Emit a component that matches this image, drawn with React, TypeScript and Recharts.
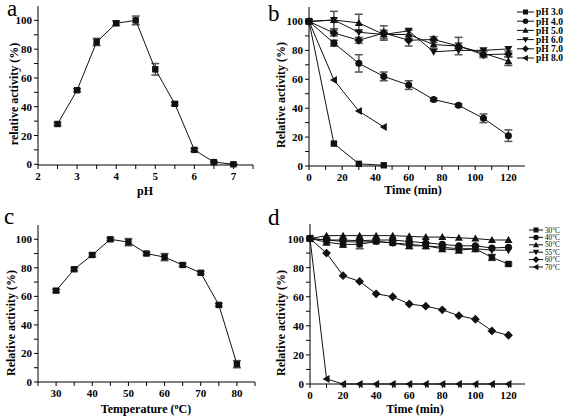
import React from "react";
import { ErrorBar, Legend, Line, LineChart, XAxis, YAxis } from "recharts";

// panel a: pH profile
const phValues = [2.5, 3, 3.5, 4, 4.5, 5, 5.5, 6, 6.5, 7];
const phActivity = [28, 51.5, 85, 98, 100, 66, 42, 10, 1.5, 0];
const phError = [1, 1, 2.5, 1.5, 3, 4, 1, 1, 0.5, 0.5];

// panel b: pH stability
const stabTime = [0, 15, 30, 45, 60, 75, 90, 105, 120];
const stabPh3 = [100, 15.5, 1.5, 0.5];
const stabPh4 = [100, 85, 71, 62, 56, 46, 42, 33, 21];
const stabPh5 = [100, 101, 99, 91, 91, 84, 83, 78, 72.5];
const stabPh6 = [100, 101, 92.5, 91, 93.5, 79, 80, 80, 81];
const stabPh7 = [100, 92, 87, 92, 87, 87.5, 83, 77, 77.5];
const stabPh8 = [100, 59.5, 38, 27];
const stabPh4Err = [1, 2, 6, 3, 3, 1, 1, 3, 4];
const stabPh5Err = [1, 6, 6, 3, 3, 3, 6, 2, 3];
const stabPh7Err = [1, 2, 2, 5, 4, 2, 2, 2, 2];

// panel c: temperature profile
const tempValues = [30, 35, 40, 45, 50, 55, 60, 65, 70, 75, 80];
const tempActivity = [64, 79, 89, 100, 98, 90, 87.5, 82, 76.5, 54, 12.5];
const tempError = [1, 1, 1, 1, 2.5, 1, 2.5, 1, 1, 1, 2.5];

// panel d: thermostability
const thermTime = [0, 10, 20, 30, 40, 50, 60, 70, 80, 90, 100, 110, 120];
const therm30 = [100, 97.5, 96, 96, 98, 97, 95, 95, 93, 92, 93, 87, 82.5];
const therm40 = [100, 99, 99, 98.5, 99, 99, 98, 97, 96, 95, 95, 93.5, 94];
const therm50 = [100, 102, 102, 102, 102, 102, 101.5, 101, 101, 100.5, 100, 99, 99];
const therm55 = [100, 99, 98, 97.5, 98, 97, 96, 95, 94, 93, 93, 92, 92];
const therm60 = [100, 90, 74.5, 70.5, 62, 60, 55, 53.5, 51, 47, 44.5, 36.5, 33.5];
const therm70 = [100, 3.5, 0, 0, 0, 0, 0, 0, 0, 0, 0, 0, 0];
const therm30Err = [1, 2, 2, 3, 1, 1, 2, 2, 2, 2, 2, 2, 1];

const phLabels = ["pH 3.0", "pH 4.0", "pH 5.0", "pH 6.0", "pH 7.0", "pH 8.0"];
const tempLabels = ["30°C", "40°C", "50°C", "55°C", "60°C", "70°C"];

type Shape = "square" | "circle" | "up" | "down" | "diamond" | "left";
const shapes: Shape[] = ["square", "circle", "up", "down", "diamond", "left"];

const serif = '"Liberation Serif", "Times New Roman", serif';
const ink = "#111";

const dataA = phValues.map((x, i) => ({ x, y: phActivity[i], e: phError[i] }));
const dataC = tempValues.map((x, i) => ({ x, y: tempActivity[i], e: tempError[i] }));
const dataB = stabTime.map((x, i) => ({
  x,
  s0: stabPh3[i] ?? null,
  s1: stabPh4[i],
  s2: stabPh5[i],
  s3: stabPh6[i],
  s4: stabPh7[i],
  s5: stabPh8[i] ?? null,
  e1: stabPh4Err[i],
  e2: stabPh5Err[i],
  e4: stabPh7Err[i],
}));
const dataD = thermTime.map((x, i) => ({
  x,
  s0: therm30[i],
  s1: therm40[i],
  s2: therm50[i],
  s3: therm55[i],
  s4: therm60[i],
  s5: therm70[i],
  e0: therm30Err[i],
}));

function Marker({ cx, cy, shape, s = 3.2 }: { cx: number; cy: number; shape: Shape; s?: number }) {
  if (shape === "square") return <rect x={cx - s} y={cy - s} width={s * 2} height={s * 2} fill={ink} />;
  if (shape === "circle") return <circle cx={cx} cy={cy} r={s * 1.1} fill={ink} />;
  const k = s * 1.25;
  let pts = "";
  if (shape === "up") pts = `${cx},${cy - k} ${cx + k},${cy + k * 0.75} ${cx - k},${cy + k * 0.75}`;
  if (shape === "down") pts = `${cx},${cy + k} ${cx + k},${cy - k * 0.75} ${cx - k},${cy - k * 0.75}`;
  if (shape === "left") pts = `${cx - k},${cy} ${cx + k * 0.75},${cy - k} ${cx + k * 0.75},${cy + k}`;
  if (shape === "diamond") pts = `${cx},${cy - k * 1.1} ${cx + k * 1.1},${cy} ${cx},${cy + k * 1.1} ${cx - k * 1.1},${cy}`;
  return <polygon points={pts} fill={ink} />;
}

const dotOf = (shape: Shape) => (p: any) => {
  if (p.cy == null || p.value == null) return <g key={p.key} />;
  return (
    <g key={p.key}>
      <Marker cx={p.cx} cy={p.cy} shape={shape} />
    </g>
  );
};

const xTick = (labels: number[]) => (p: any) => {
  if (!labels.includes(p.payload.value)) return <g />;
  return (
    <text x={p.x} y={p.y} dy={9} textAnchor="middle" fontFamily={serif} fontWeight="bold" fontSize={11} fill="#000">
      {p.payload.value}
    </text>
  );
};

const yTick = (labels: number[]) => (p: any) => {
  if (!labels.includes(p.payload.value)) return <g />;
  return (
    <text x={p.x} y={p.y} dy={4} textAnchor="end" fontFamily={serif} fontWeight="bold" fontSize={11} fill="#000">
      {p.payload.value}
    </text>
  );
};

const axisProps = {
  axisLine: { stroke: "#000" },
  tickLine: { stroke: "#000" },
  tickSize: 4,
  tickMargin: 2,
  interval: 0 as const,
};

const yMinor = [0, 10, 20, 30, 40, 50, 60, 70, 80, 90, 100];
const yMajor = [0, 20, 40, 60, 80, 100];
const timeMinor = [0, 10, 20, 30, 40, 50, 60, 70, 80, 90, 100, 110, 120];
const timeMajor = [0, 20, 40, 60, 80, 100, 120];

function SeriesLegend({ labels, rowH, lineW, fontSize, bold }: { labels: string[]; rowH: number; lineW: number; fontSize: number; bold: boolean }) {
  return (
    <svg width={52} height={rowH * labels.length + 4} style={{ overflow: "visible" }}>
      {labels.map((l, i) => {
        const y = 4 + i * rowH;
        return (
          <g key={l}>
            <line x1={0} x2={lineW} y1={y} y2={y} stroke={ink} strokeWidth={1} />
            <Marker cx={lineW / 2} cy={y} shape={shapes[i]} s={2.5} />
            <text x={lineW + 2} y={y + fontSize * 0.35} fontFamily={serif} fontSize={fontSize} fontWeight={bold ? "bold" : "normal"} fill="#000">
              {l}
            </text>
          </g>
        );
      })}
    </svg>
  );
}

function Titles() {
  const t = { fontFamily: serif, fontWeight: "bold" as const, fill: "#000" };
  return (
    <svg width={567} height={418} style={{ position: "absolute", left: 0, top: 0, pointerEvents: "none" }}>
      <text x={7} y={16} fontFamily={serif} fontSize={23} fill="#000">a</text>
      <text x={268} y={21} fontFamily={serif} fontSize={23} fill="#000">b</text>
      <text x={4} y={224} fontFamily={serif} fontSize={23} fill="#000">c</text>
      <text x={268} y={225} fontFamily={serif} fontSize={23} fill="#000">d</text>
      <text x={145} y={195} textAnchor="middle" fontSize={12} {...t}>pH</text>
      <text x={413} y={194} textAnchor="middle" fontSize={12} {...t}>Time (min)</text>
      <text x={146} y={413} textAnchor="middle" fontSize={12} {...t}>
        Temperature  (<tspan fontSize={8} dy={-4}>o</tspan><tspan dy={4}>C)</tspan>
      </text>
      <text x={415} y={413} textAnchor="middle" fontSize={12} {...t}>Time (min)</text>
      <text transform="translate(18,94) rotate(-90)" textAnchor="middle" fontSize={12} {...t}>relative activity (%)</text>
      <text transform="translate(285,95) rotate(-90)" textAnchor="middle" fontSize={12} {...t}>Relative activity (%)</text>
      <text transform="translate(15,323) rotate(-90)" textAnchor="middle" fontSize={12} {...t}>Relative activity (%)</text>
      <text transform="translate(285,323) rotate(-90)" textAnchor="middle" fontSize={12} {...t}>Relative activity (%)</text>
    </svg>
  );
}

const cell = (left: number, top: number): React.CSSProperties => ({ position: "absolute", left, top });

export default function App() {
  return (
    <div style={{ position: "relative", width: 567, height: 418, background: "#fff", overflow: "hidden" }}>
      <style>{"body{margin:0}"}</style>

      <div style={cell(0, 0)}>
        <LineChart width={280} height={209} data={dataA} margin={{ top: 6, right: 27, left: 8, bottom: 14 }}>
          <XAxis dataKey="x" type="number" domain={[2, 7.5]} ticks={[2, 2.5, 3, 3.5, 4, 4.5, 5, 5.5, 6, 6.5, 7, 7.5]} tick={xTick([2, 3, 4, 5, 6, 7])} height={30} {...axisProps} />
          <YAxis type="number" domain={[0, 110]} ticks={yMinor} tick={yTick(yMajor)} width={30} {...axisProps} />
          <Line dataKey="y" stroke={ink} strokeWidth={1} dot={dotOf("square")} isAnimationActive={false}>
            <ErrorBar dataKey="e" width={4} stroke="#555" direction="y" />
          </Line>
        </LineChart>
      </div>

      <div style={cell(280, 0)}>
        <LineChart width={287} height={209} data={dataB} margin={{ top: 7, right: 42, left: 5, bottom: 13 }}>
          <XAxis dataKey="x" type="number" domain={[0, 130]} ticks={timeMinor} tick={xTick(timeMajor)} height={30} {...axisProps} />
          <YAxis type="number" domain={[0, 110]} ticks={yMinor} tick={yTick(yMajor)} width={24} {...axisProps} />
          {shapes.map((sh, i) => (
            <Line key={sh} dataKey={`s${i}`} stroke={ink} strokeWidth={1} dot={dotOf(sh)} isAnimationActive={false}>
              {[1, 2, 4].includes(i) && <ErrorBar dataKey={`e${i}`} width={4} stroke="#555" direction="y" />}
            </Line>
          ))}
          <Legend
            layout="vertical"
            align="center"
            verticalAlign="middle"
            wrapperStyle={{ left: 237, top: 8 }}
            content={() => <SeriesLegend labels={phLabels} rowH={9.2} lineW={17} fontSize={9.5} bold />}
          />
        </LineChart>
      </div>

      <div style={cell(0, 209)}>
        <LineChart width={280} height={209} data={dataC} margin={{ top: 16, right: 25, left: 8, bottom: 6 }}>
          <XAxis dataKey="x" type="number" domain={[25, 85]} ticks={[25, 30, 35, 40, 45, 50, 55, 60, 65, 70, 75, 80, 85]} tick={xTick([30, 40, 50, 60, 70, 80])} height={30} {...axisProps} />
          <YAxis type="number" domain={[0, 110]} ticks={yMinor} tick={yTick(yMajor)} width={30} {...axisProps} />
          <Line dataKey="y" stroke={ink} strokeWidth={1} dot={dotOf("square")} isAnimationActive={false}>
            <ErrorBar dataKey="e" width={4} stroke="#555" direction="y" />
          </Line>
        </LineChart>
      </div>

      <div style={cell(280, 209)}>
        <LineChart width={287} height={209} data={dataD} margin={{ top: 15, right: 42, left: 6, bottom: 4 }}>
          <XAxis dataKey="x" type="number" domain={[0, 130]} ticks={timeMinor} tick={xTick(timeMajor)} height={30} {...axisProps} />
          <YAxis type="number" domain={[0, 110]} ticks={yMinor} tick={yTick(yMajor)} width={24} {...axisProps} />
          {shapes.map((sh, i) => (
            <Line key={sh} dataKey={`s${i}`} stroke={ink} strokeWidth={1} dot={dotOf(sh)} isAnimationActive={false}>
              {i === 0 && <ErrorBar dataKey="e0" width={4} stroke="#555" direction="y" />}
            </Line>
          ))}
          <Legend
            layout="vertical"
            align="center"
            verticalAlign="middle"
            wrapperStyle={{ left: 249, top: 17 }}
            content={() => <SeriesLegend labels={tempLabels} rowH={7.4} lineW={14} fontSize={7.2} bold={false} />}
          />
        </LineChart>
      </div>

      <Titles />
    </div>
  );
}
